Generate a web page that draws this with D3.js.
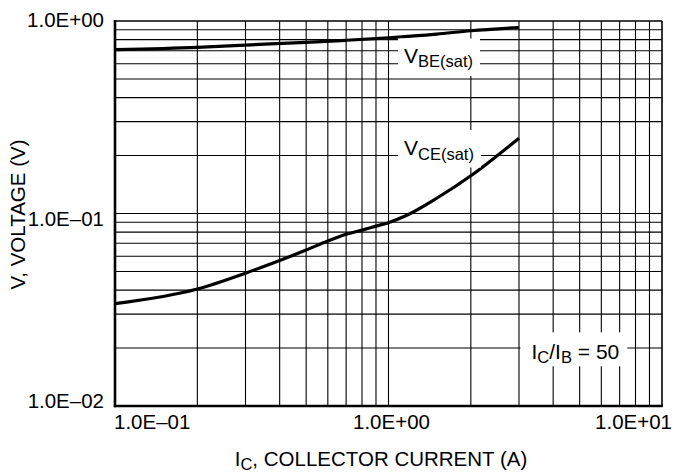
<!DOCTYPE html>
<html><head><meta charset="utf-8">
<script src="https://cdn.jsdelivr.net/npm/d3@7"></script>
<style>
body{margin:0;background:#fff}
svg{display:block;background:#fff}
text{font-family:"Liberation Sans",Arial,Helvetica,sans-serif;fill:#000;white-space:pre}
</style>
</head><body>
<svg id="chart" width="676" height="472"></svg>
<script>
// ---- data ----
const xTickValues = [0.1, 1, 10];
const xTickLabels = ["1.0E\u201301", "1.0E+00", "1.0E+01"];
const yTickValues = [1, 0.1, 0.01];
const yTickLabels = ["1.0E+00", "1.0E\u201301", "1.0E\u201302"];

const icBE  = [0.1, 0.2, 0.3, 0.5, 0.7, 1.0, 1.5, 2.0, 3.0];
const vBE   = [0.71, 0.73, 0.75, 0.775, 0.794, 0.818, 0.855, 0.89, 0.925];

const icCE  = [0.1, 0.2, 0.3, 0.4, 0.5, 0.6, 0.7, 0.8, 0.9, 1.0, 1.15, 1.5, 2.0, 2.5, 3.0];
const vCE   = [0.034, 0.0405, 0.049, 0.057, 0.0646, 0.072, 0.078, 0.082, 0.086, 0.0896, 0.097, 0.12, 0.157, 0.2, 0.246];

const xTitleMain = "I", xTitleSub = "C", xTitleRest = ", COLLECTOR CURRENT (A)";
const yTitle = "V, VOLTAGE (V)";

// ---- layout ----
const svg = d3.select("#chart");
const L = 115, R = 662, T = 21, B = 406;
const x = d3.scaleLog().domain([0.1, 10]).range([L, R]);
const y = d3.scaleLog().domain([0.01, 1]).range([B, T]);

// grid values (1..9 per decade)
const xGrid = [], yGrid = [];
[0.1, 1].forEach(d => { for (let k = 1; k <= 9; k++) xGrid.push(d * k); });
[0.01, 0.1].forEach(d => { for (let k = 1; k <= 9; k++) yGrid.push(d * k); });

const grid = svg.append("g");
grid.selectAll("line.v").data(xGrid.filter(v => v > 0.1 + 1e-9)).join("line")
  .attr("x1", d => x(d)).attr("x2", d => x(d)).attr("y1", T).attr("y2", B)
  .attr("stroke", "#000").attr("stroke-width", 1.1);
grid.selectAll("line.h").data(yGrid.filter(v => v > 0.01 + 1e-9)).join("line")
  .attr("y1", d => y(d)).attr("y2", d => y(d)).attr("x1", L).attr("x2", R)
  .attr("stroke", "#000").attr("stroke-width", 1.1);

// frame
svg.append("line").attr("x1", L).attr("x2", R).attr("y1", T).attr("y2", T).attr("stroke", "#000").attr("stroke-width", 1.6);
svg.append("line").attr("x1", R).attr("x2", R).attr("y1", T).attr("y2", B).attr("stroke", "#000").attr("stroke-width", 1.6);
svg.append("line").attr("x1", L).attr("x2", L).attr("y1", T - 1).attr("y2", B + 1.2).attr("stroke", "#000").attr("stroke-width", 2.6);
svg.append("line").attr("x1", L - 1.2).attr("x2", R + 0.8).attr("y1", B).attr("y2", B).attr("stroke", "#000").attr("stroke-width", 2.6);

// annotations (white boxes break the grid)
const annG = svg.append("g");
function label(xp, yp, parts, pad) {
  const t = annG.append("text").attr("x", xp).attr("y", yp);
  parts.forEach(p => {
    t.append("tspan").attr("font-size", p.s).attr("dy", p.dy || 0).text(p.t);
  });
  const bb = t.node().getBBox();
  annG.insert("rect", "text")
    .attr("x", bb.x - pad[0]).attr("y", bb.y - pad[1])
    .attr("width", bb.width + pad[0] + pad[2]).attr("height", bb.height + pad[1] + pad[3])
    .attr("fill", "#fff");
  return t;
}
label(404, 62.5, [{t: "V", s: 21}, {t: "BE(sat)", s: 16.5, dy: 4.5}], [6, 5, 7, 6]);
label(404, 155, [{t: "V", s: 21}, {t: "CE(sat)", s: 16.5, dy: 4.5}], [6, 6, 7, 5]);
label(531.5, 359.3, [{t: "I", s: 21}, {t: "C", s: 16.5, dy: 4}, {t: "/I", s: 21, dy: -4}, {t: "B", s: 16.5, dy: 4}, {t: " = 50", s: 21, dy: -4}], [11, 8, 8, 0]);

// curves
const line = d3.line().x(d => x(d[0])).y(d => y(d[1])).curve(d3.curveMonotoneX);
svg.append("path").datum(icBE.map((v, i) => [v, vBE[i]])).attr("d", line)
  .attr("fill", "none").attr("stroke", "#000").attr("stroke-width", 3.2).attr("stroke-linecap", "butt");
svg.append("path").datum(icCE.map((v, i) => [v, vCE[i]])).attr("d", line)
  .attr("fill", "none").attr("stroke", "#000").attr("stroke-width", 3.2).attr("stroke-linecap", "butt");

// keep annotation texts on top
annG.raise();

// tick labels
const xAnch = ["start", "middle", "end"], xOff = [-1, 3, 10];
svg.selectAll("text.xt").data(xTickValues).join("text").attr("class", "xt")
  .attr("x", (d, i) => x(d) + xOff[i]).attr("y", 429)
  .attr("text-anchor", (d, i) => xAnch[i]).attr("font-size", 20.5)
  .text((d, i) => xTickLabels[i]);
const yOff = [6.3, 12.3, 2.3];
svg.selectAll("text.yt").data(yTickValues).join("text").attr("class", "yt")
  .attr("x", L - 11).attr("y", (d, i) => y(d) + yOff[i])
  .attr("text-anchor", "end").attr("font-size", 20.5)
  .text((d, i) => yTickLabels[i]);

// axis titles
const xt = svg.append("text").attr("x", 381).attr("y", 465.5).attr("text-anchor", "middle").attr("font-size", 20.5);
xt.append("tspan").text(xTitleMain);
xt.append("tspan").attr("font-size", 16.5).attr("dy", 4.5).text(xTitleSub);
xt.append("tspan").attr("dy", -4.5).text(xTitleRest);

svg.append("text").attr("transform", "translate(25,214.5) rotate(-90)")
  .attr("text-anchor", "middle").attr("font-size", 20.5).text(yTitle);
</script>
</body></html>
